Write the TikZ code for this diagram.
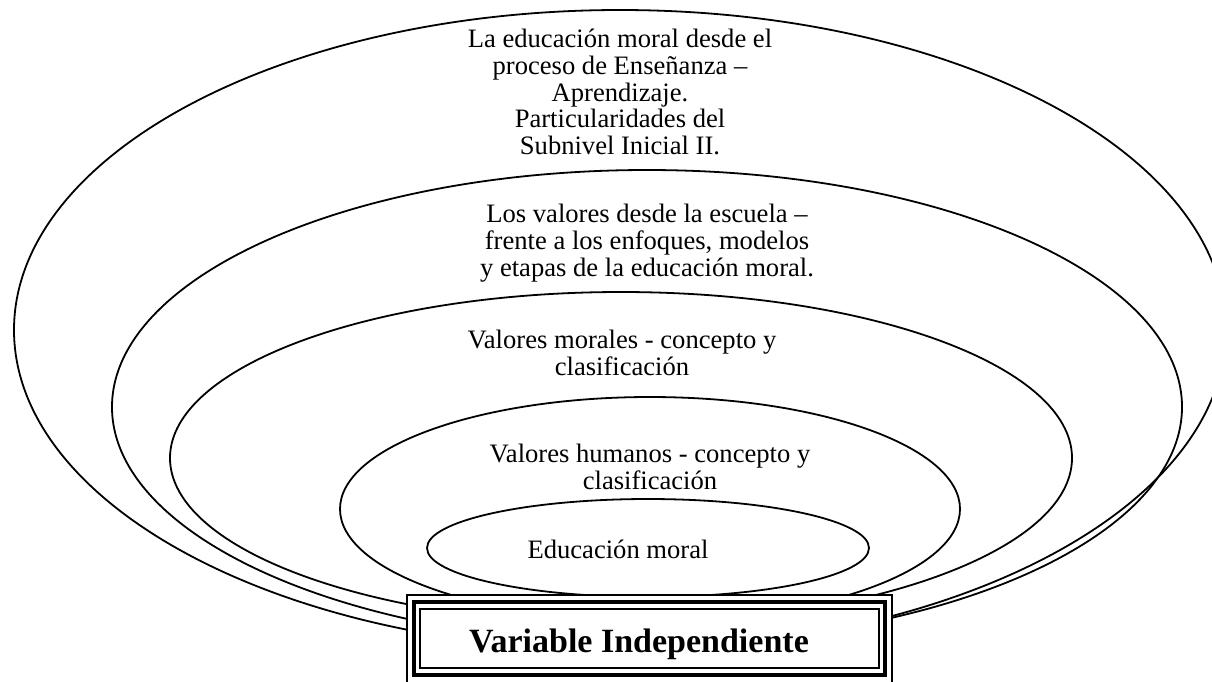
\documentclass[tikz,border=0pt]{standalone}
\usepackage{fontspec}
\setmainfont{Liberation Serif}
\begin{document}
\begin{tikzpicture}[x=1pt,y=-1pt,
  ring/.style={line width=1.8pt},
  lbl/.style={align=center,inner sep=0pt,font=\fontsize{26.6}{26.8}\selectfont},
  thinframe/.style={line width=1.2pt},
  thickframe/.style={line width=4pt}]
\useasboundingbox (0,0) rectangle (1212,681);
\clip (0,0) rectangle (1212,681);
% rings
\draw[ring] (620,330) ellipse [x radius=606pt, y radius=320pt];
\draw[ring] (647,407) ellipse [x radius=535pt, y radius=237pt];
\draw[ring] (621,458) ellipse [x radius=451pt, y radius=166pt];
\draw[ring] (650,509) ellipse [x radius=310pt, y radius=112pt];
\draw[ring] (648,548) ellipse [x radius=221pt, y radius=49pt];
% labels
\node[lbl] (t1) at (620,92) {La educación moral desde el\\proceso de Enseñanza –\\Aprendizaje.\\Particularidades del\\Subnivel Inicial II.};
\node[lbl] (t2) at (647,243) {Los valores desde la escuela –\\frente a los enfoques, modelos\\y etapas de la educación moral.};
\node[lbl] (t3) at (622,353) {Valores morales - concepto y\\clasificación};
\node[lbl] (t4) at (650,467) {Valores humanos - concepto y\\clasificación};
\node[lbl] (t5) at (618,549) {Educación moral};
% frame
\draw[thinframe,fill=white] (407,595) rectangle (892,684);
\draw[thickframe] (414,602) rectangle (885,675);
\draw[thinframe] (420,609) rectangle (879,668);
\node[inner sep=0pt,font=\fontsize{34}{36}\selectfont\bfseries] (vi) at (639,644) {Variable Independiente};
\end{tikzpicture}
\end{document}
